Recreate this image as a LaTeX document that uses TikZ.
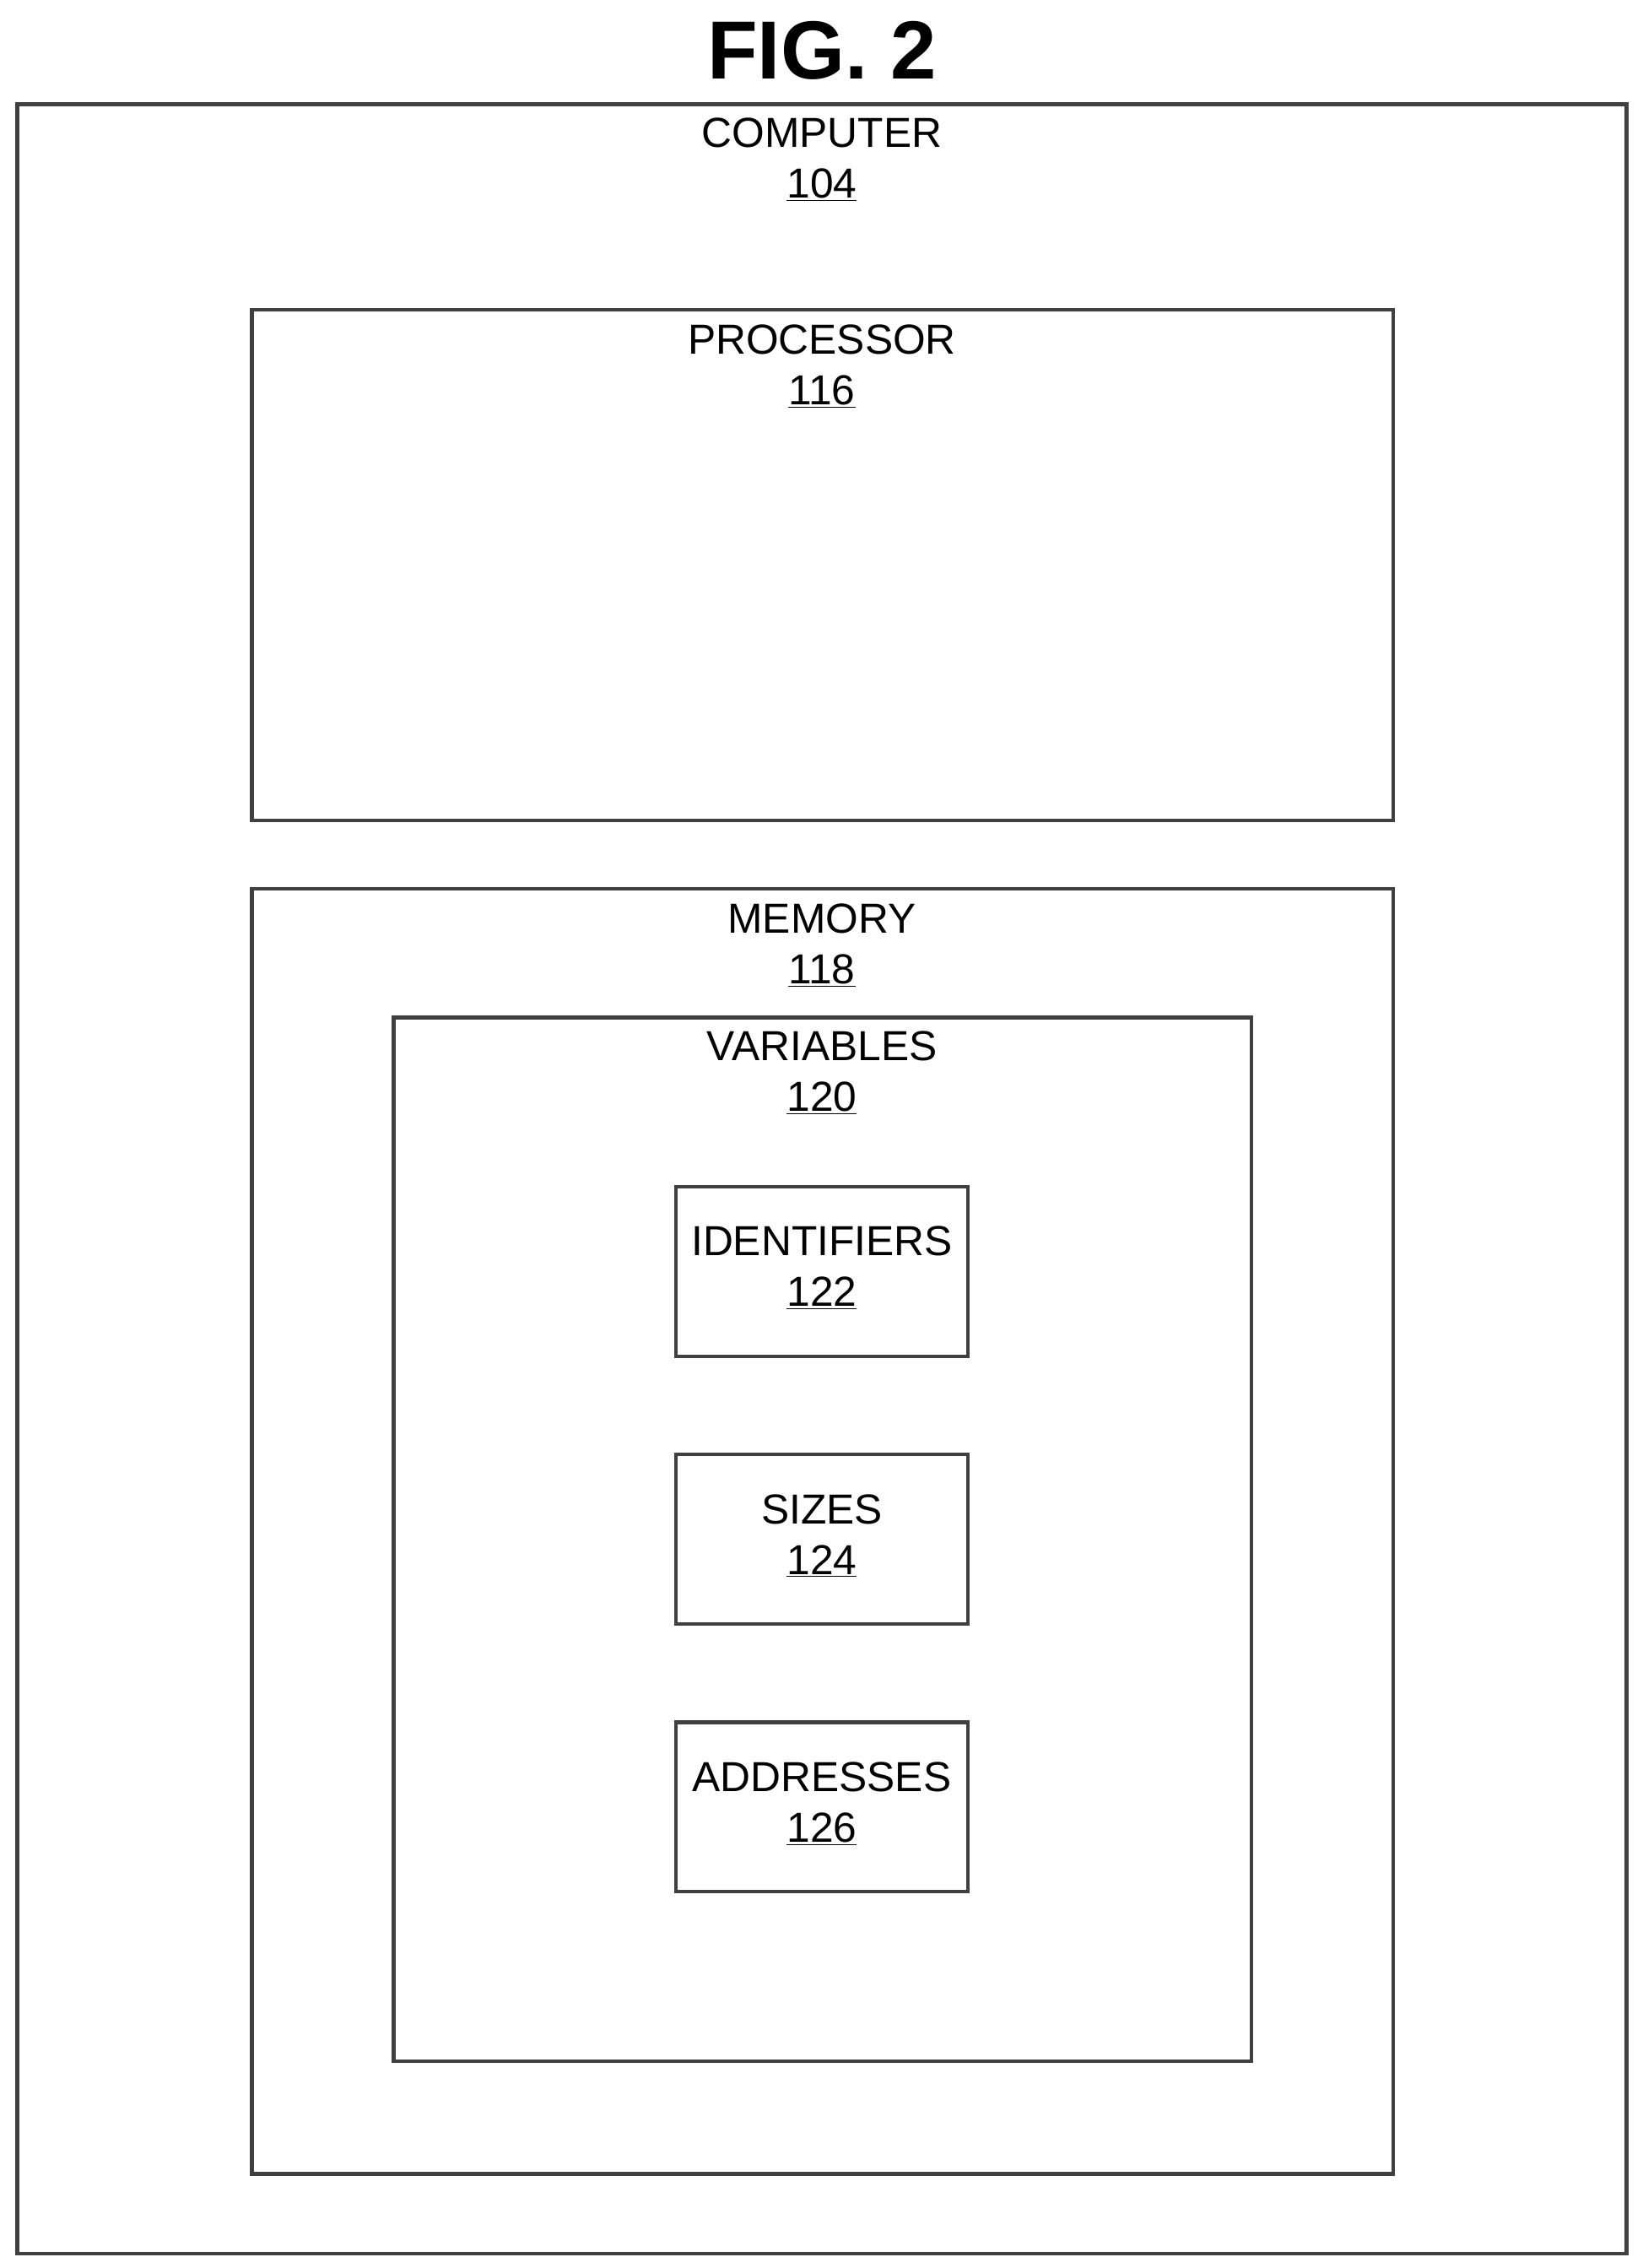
\documentclass[tikz,border=0pt]{standalone}
\usepackage{fontspec}
\setmainfont{Liberation Sans}
\tikzset{every picture/.style={line width=2.5pt}}
\tikzset{blk/.style={draw=black!75,rectangle,inner sep=0pt}}
\newcommand{\lbl}[2]{\fontsize{29}{36}\selectfont\begin{tabular}{c}#1\\[-1pt]\underline{#2}\end{tabular}}

\begin{document}
\begin{tikzpicture}[x=1pt,y=1pt,yscale=-1]
\useasboundingbox (0,0) rectangle (1135,1567);

% Title
\node (title) at (568,35) {\fontsize{57}{64}\selectfont\bfseries FIG. 2};

% Boxes
\node (computer) [blk,minimum width=1112pt,minimum height=1485pt] at (568,814.5) {};
\node (processor) [blk,minimum width=789pt,minimum height=353pt] at (568.5,390.5) {};
\node (memory) [blk,minimum width=789pt,minimum height=888pt] at (568.5,1058) {};
\node (variables) [blk,minimum width=593pt,minimum height=721pt] at (568.5,1063.5) {};
\node (ids) [blk,minimum width=202pt,minimum height=117pt] at (568,878.5) {};
\node (sizes) [blk,minimum width=202pt,minimum height=117pt] at (568,1063.5) {};
\node (addrs) [blk,minimum width=202pt,minimum height=117pt] at (568,1248.5) {};

% Text Node
\node (tcomputer) at (568,112) {\lbl{COMPUTER}{104}};
\node (tprocessor) at (568,255) {\lbl{PROCESSOR}{116}};
\node (tmemory) at (568,655) {\lbl{MEMORY}{118}};
\node (tvariables) at (568,743) {\lbl{VARIABLES}{120}};
\node (tids) at (568,878) {\lbl{IDENTIFIERS}{122}};
\node (tsizes) at (568,1063) {\lbl{SIZES}{124}};
\node (taddrs) at (568,1248) {\lbl{ADDRESSES}{126}};

\end{tikzpicture}
\end{document}
